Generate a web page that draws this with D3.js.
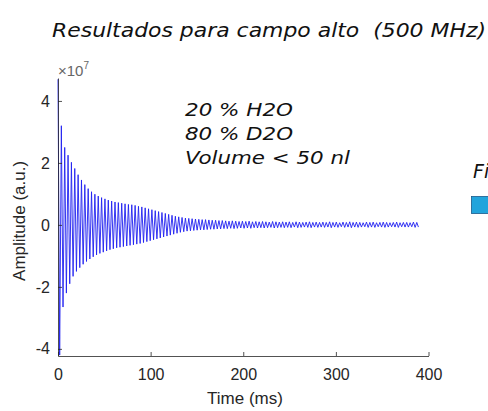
<!DOCTYPE html>
<html>
<head>
<meta charset="utf-8">
<script src="https://cdn.jsdelivr.net/npm/d3@7"></script>
<style>
  body { margin: 0; background: #fff; }
  svg { display: block; }
</style>
</head>
<body>
<div id="chart"></div>
<script>
// FID signal, amplitude in units of 1e7 (one peak + one trough per cycle)
const sampleStepMs = 3.62;
const upperPeaks = [
  4.70, 3.20, 2.50, 2.25, 2.02, 1.82, 1.62, 1.45, 1.30, 1.17,
  1.07, 0.99, 0.93, 0.88, 0.84, 0.80, 0.77, 0.74, 0.72, 0.70,
  0.68, 0.66, 0.65, 0.63, 0.60, 0.58, 0.55, 0.52, 0.49, 0.46,
  0.43, 0.40, 0.37, 0.34, 0.31, 0.28, 0.26, 0.24, 0.22, 0.21,
  0.20, 0.19, 0.18, 0.17, 0.17, 0.16, 0.15, 0.15, 0.14, 0.14,
  0.13, 0.12, 0.13, 0.12, 0.11, 0.12, 0.11, 0.12, 0.10, 0.11,
  0.10, 0.11, 0.10, 0.09, 0.11, 0.10, 0.09, 0.10, 0.09, 0.10,
  0.08, 0.10, 0.09, 0.08, 0.09, 0.10, 0.08, 0.09, 0.08, 0.09,
  0.08, 0.10, 0.08, 0.09, 0.07, 0.09, 0.08, 0.10, 0.08, 0.09,
  0.08, 0.07, 0.09, 0.08, 0.09, 0.07, 0.08, 0.09, 0.08, 0.07,
  0.08, 0.09, 0.07, 0.08, 0.08, 0.07, 0.09, 0.08
];
const lowerPeaks = [
  -4.20, -2.65, -2.20, -1.90, -1.66, -1.50, -1.38, -1.27, -1.18, -1.10,
  -1.03, -0.97, -0.92, -0.88, -0.84, -0.80, -0.77, -0.74, -0.72, -0.70,
  -0.68, -0.66, -0.64, -0.62, -0.60, -0.57, -0.54, -0.51, -0.48, -0.45,
  -0.42, -0.39, -0.36, -0.33, -0.30, -0.27, -0.24, -0.22, -0.20, -0.19,
  -0.18, -0.17, -0.16, -0.16, -0.15, -0.14, -0.14, -0.13, -0.13, -0.12,
  -0.12, -0.11, -0.12, -0.11, -0.10, -0.11, -0.10, -0.11, -0.09, -0.10,
  -0.09, -0.10, -0.09, -0.08, -0.10, -0.09, -0.08, -0.09, -0.08, -0.09,
  -0.07, -0.09, -0.08, -0.07, -0.08, -0.09, -0.07, -0.08, -0.07, -0.08,
  -0.07, -0.09, -0.07, -0.08, -0.06, -0.08, -0.07, -0.09, -0.07, -0.08,
  -0.07, -0.06, -0.08, -0.07, -0.08, -0.06, -0.07, -0.08, -0.07, -0.06,
  -0.07, -0.08, -0.06, -0.07, -0.07, -0.06, -0.08, -0.07
];
const xTicks = [0, 100, 200, 300, 400];
const yTicks = [-4, -2, 0, 2, 4];
const titleText = "Resultados para campo alto  (500 MHz)";
const noteLines = ["20 % H2O", "80 % D2O", "Volume < 50 nl"];

// build the zigzag series from the peaks
const signal = [];
upperPeaks.forEach((v, i) => {
  signal.push({ t: i * sampleStepMs, v: v });
  if (i < lowerPeaks.length) signal.push({ t: i * sampleStepMs + sampleStepMs / 2, v: lowerPeaks[i] });
});

const W = 488, H = 411;
const plot = { left: 58, right: 428.5, top: 78, bottom: 356 };
const axisColor = "#262626";
const axisFont = "'Liberation Sans', Arial, Helvetica, sans-serif";
const handFont = "'DejaVu Sans', sans-serif";

const svg = d3.select("#chart").append("svg")
  .attr("width", W)
  .attr("height", H);

const xScale = d3.scaleLinear().domain([0, 400]).range([plot.left, plot.right]);
const yScale = d3.scaleLinear().domain([-4.23, 4.74]).range([plot.bottom, plot.top]);

// signal
const line = d3.line()
  .x(d => xScale(d.t))
  .y(d => yScale(d.v));

svg.append("path")
  .datum(signal)
  .attr("fill", "none")
  .attr("stroke", "#2020f0")
  .attr("stroke-width", 0.9)
  .attr("stroke-linejoin", "round")
  .attr("d", line);

// axes (MATLAB style, ticks inside, no box)
const xAxis = svg.append("g")
  .attr("transform", `translate(0,${plot.bottom})`)
  .call(d3.axisBottom(xScale).tickValues(xTicks).tickFormat(d => String(d))
    .tickSizeInner(-4).tickSizeOuter(0).tickPadding(13));

const yAxis = svg.append("g")
  .attr("transform", `translate(${plot.left},0)`)
  .call(d3.axisLeft(yScale).tickValues(yTicks).tickFormat(d => String(d))
    .tickSizeInner(-4).tickSizeOuter(0).tickPadding(8));

[xAxis, yAxis].forEach(g => {
  g.attr("font-family", axisFont).attr("font-size", 16);
  g.select(".domain").attr("stroke", axisColor).attr("stroke-width", 0.8);
  g.selectAll(".tick line").attr("stroke", axisColor).attr("stroke-width", 0.8);
  g.selectAll(".tick text").attr("fill", axisColor);
});

// exponent label
const expLabel = svg.append("text")
  .attr("x", 58)
  .attr("y", 76)
  .attr("fill", "#666")
  .attr("font-family", axisFont)
  .attr("font-size", 15)
  .text("\u00d710");
expLabel.append("tspan")
  .attr("dy", -7)
  .attr("font-size", 10)
  .text("7");

// axis labels
svg.append("text")
  .attr("x", 245)
  .attr("y", 404)
  .attr("text-anchor", "middle")
  .attr("fill", axisColor)
  .attr("font-family", axisFont)
  .attr("font-size", 17)
  .text("Time (ms)");

svg.append("text")
  .attr("transform", `translate(25,${yScale(0) - 4}) rotate(-90)`)
  .attr("text-anchor", "middle")
  .attr("fill", axisColor)
  .attr("font-family", axisFont)
  .attr("font-size", 17)
  .text("Amplitude (a.u.)");

// title (keeps the double space)
svg.append("text")
  .attr("x", 52)
  .attr("y", 37)
  .attr("fill", "#111")
  .attr("font-family", handFont)
  .attr("font-style", "italic")
  .attr("font-size", 19)
  .attr("textLength", 434)
  .attr("lengthAdjust", "spacingAndGlyphs")
  .style("white-space", "pre")
  .text(titleText);

// sample note
const noteWidths = [108, 108, 165];
svg.selectAll(".note")
  .data(noteLines)
  .join("text")
  .attr("class", "note")
  .attr("x", 185)
  .attr("y", (d, i) => 116 + i * 24)
  .attr("fill", "#111")
  .attr("font-family", handFont)
  .attr("font-style", "italic")
  .attr("font-size", 17)
  .attr("textLength", (d, i) => noteWidths[i])
  .attr("lengthAdjust", "spacingAndGlyphs")
  .text(d => d);

// clipped legend at right edge
svg.append("text")
  .attr("x", 473)
  .attr("y", 178)
  .attr("fill", "#111")
  .attr("font-family", handFont)
  .attr("font-style", "italic")
  .attr("font-size", 19)
  .text("Fi");

svg.append("rect")
  .attr("x", 471.5)
  .attr("y", 196.5)
  .attr("width", 20)
  .attr("height", 17)
  .attr("fill", "#22a4dc")
  .attr("stroke", "#1a5a8a")
  .attr("stroke-width", 0.8);
</script>
</body>
</html>
